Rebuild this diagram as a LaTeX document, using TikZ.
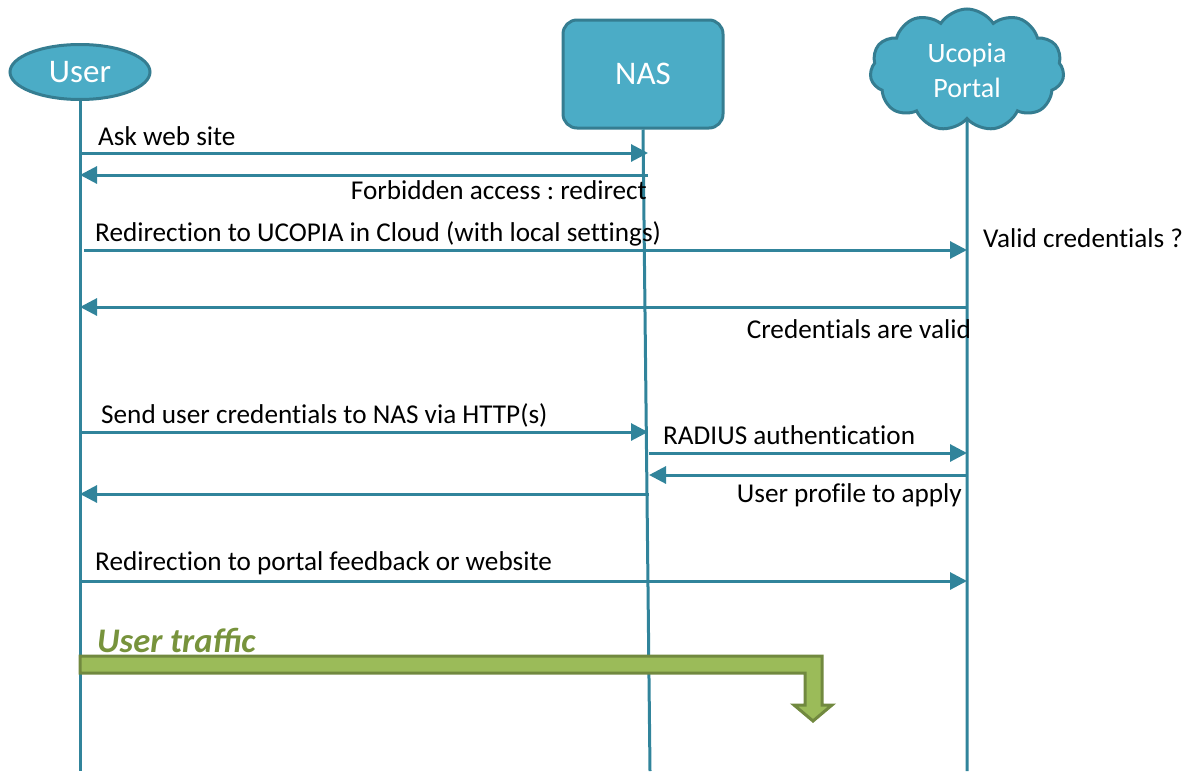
\documentclass[tikz,border=0pt]{standalone}
\usepackage{fontspec}
\setmainfont{Carlito}[Ligatures=NoCommon]
\newfontfamily\utfont{Carlito}
\frenchspacing
\usetikzlibrary{shapes.symbols,shapes.geometric,arrows.meta}
\definecolor{aqua}{HTML}{4BACC6}
\definecolor{aquadark}{HTML}{357D91}
\definecolor{linec}{HTML}{31849B}
\definecolor{grfill}{HTML}{9BBB59}
\definecolor{grdark}{HTML}{71893F}
\definecolor{grtext}{HTML}{77933C}
\begin{document}
\begin{tikzpicture}[x=1pt,y=-1pt,
  actor/.style={draw=aquadark, line width=3pt, fill=aqua, text=white, inner sep=0pt},
  life/.style={draw=linec, line width=3pt},
  msg/.style={draw=linec, line width=3pt, -{Triangle[length=17pt,width=17pt]}},
  lbl/.style={font=\fontsize{27.2}{31}\selectfont, inner sep=0pt}
]
\useasboundingbox (0,0) rectangle (1190,771);
% actors
\node[actor, ellipse, minimum width=140, minimum height=55, font=\fontsize{33}{36}\selectfont] (user) at (80,72) {User};
\node[actor, rectangle, rounded corners=14, minimum width=160, minimum height=108, font=\fontsize{33}{36}\selectfont] (nas) at (643,74) {NAS};
\node[actor, cloud, cloud puffs=11, cloud puff arc=115, aspect=1.6, minimum width=194, minimum height=122, align=center, font=\fontsize{28}{35}\selectfont] (portal) at (967,70) {Ucopia\\Portal};
% lifelines
\coordinate (ub) at (80,771);
\coordinate (nb) at (650,771);
\coordinate (pb) at (967,771);
\draw[life] (user.south) -- (ub);
\draw[life] (nas.south) -- (nb);
\draw[life] (portal.south) -- (pb);
% message end points
\coordinate (u1) at (80,153);  \coordinate (n1) at (648,153);
\coordinate (n2) at (648,175); \coordinate (u2) at (80,175);
\coordinate (u3) at (84,250);  \coordinate (p3) at (967,250);
\coordinate (p4) at (967,307); \coordinate (u4) at (80,307);
\coordinate (u5) at (80,432);  \coordinate (n5) at (648,432);
\coordinate (n6) at (649,453); \coordinate (p6) at (967,453);
\coordinate (p7) at (967,475); \coordinate (n7) at (649,475);
\coordinate (n8) at (649,494); \coordinate (u8) at (80,494);
\coordinate (u9) at (80,581);  \coordinate (p9) at (967,581);
% messages
\draw[msg] (u1) -- (n1);
\draw[msg] (n2) -- (u2);
\draw[msg] (u3) -- (p3);
\draw[msg] (p4) -- (u4);
\draw[msg] (u5) -- (n5);
\draw[msg] (n6) -- (p6);
\draw[msg] (p7) -- (n7);
\draw[msg] (n8) -- (u8);
\draw[msg] (u9) -- (p9);
% labels
\node[lbl, anchor=base west] (l1) at (98,145) {Ask web site};
\node[lbl, anchor=base east] (l2) at (647,199) {Forbidden access : redirect};
\node[lbl, anchor=base west] (l3) at (95,241) {Redirection to UCOPIA in Cloud (with local settings)};
\node[lbl, anchor=base west] (l3b) at (983,247) {Valid credentials ?};
\node[lbl, anchor=base east] (l4) at (971,338) {Credentials are valid};
\node[lbl, anchor=base west] (l5) at (101,423) {Send user credentials to NAS via HTTP(s)};
\node[lbl, anchor=base west] (l6) at (663,444) {RADIUS authentication};
\node[lbl, anchor=base east] (l7) at (962,502) {User profile to apply};
\node[lbl, anchor=base west] (l9) at (95,570) {Redirection to portal feedback or website};
% user traffic
\node[inner sep=0pt, anchor=base west, text=grtext, font=\utfont\fontsize{34.5}{38}\selectfont\bfseries\itshape] (ut) at (97,652) {User traffic};
\draw[draw=grdark, fill=grfill, line width=3pt, line join=miter]
  (80,656) -- (822,656) -- (822,705) -- (832,705) -- (813,721) -- (794,705) -- (805,705) -- (805,673) -- (80,673) -- cycle;
\end{tikzpicture}
\end{document}
